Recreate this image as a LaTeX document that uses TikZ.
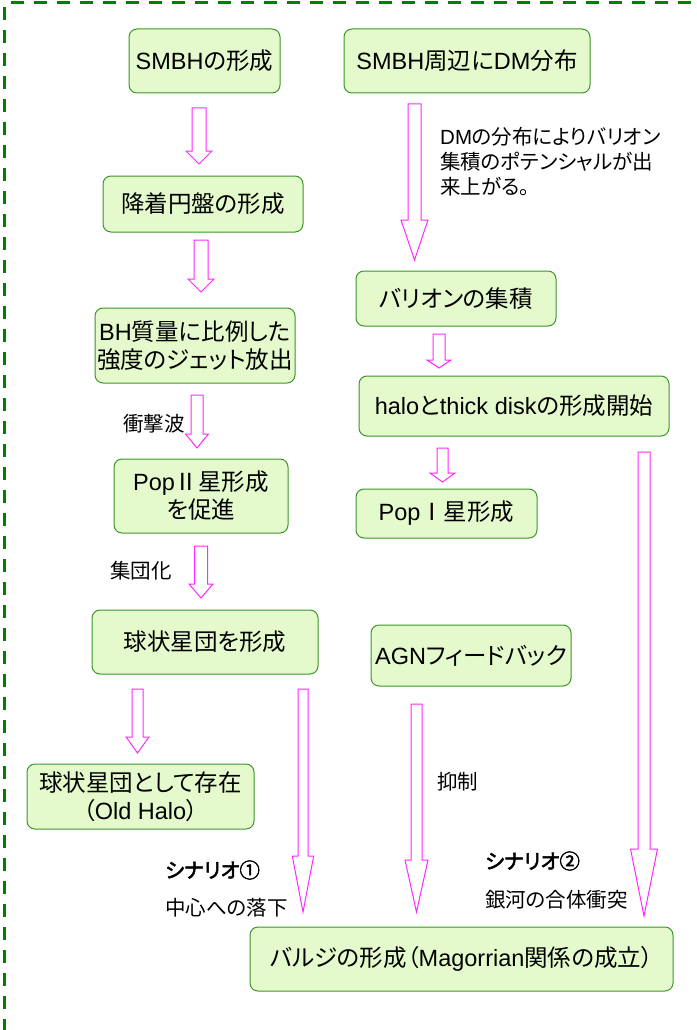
\documentclass[tikz,border=0pt]{standalone}
\usepackage{fontspec}
\setmainfont{Noto Sans CJK JP}[RawFeature={+palt}, AutoFakeBold=2.5]
\newfontfamily\lt{Liberation Sans}
\definecolor{boxline}{RGB}{60,150,40}
\definecolor{boxfill}{RGB}{229,250,204}
\definecolor{arrowline}{RGB}{255,40,255}
\definecolor{frame}{RGB}{0,128,0}
\tikzset{
  greenbox/.style={draw=boxline, fill=boxfill, line width=1pt, rounded corners=8pt,
    inner sep=0pt, align=center, font=\fontsize{23.5}{28}\selectfont},
  lbl/.style={anchor=west, inner sep=0pt, align=left, font=\fontsize{20.5}{25}\selectfont},
  blbl/.style={lbl, font=\fontsize{20.5}{25}\selectfont\bfseries},
  barrowstyle/.style={draw=arrowline, fill=white, line width=1pt, line join=miter},
  framedash/.style={draw=frame, line width=3pt, dash pattern=on 13pt off 10pt}
}
% block arrow: x, top, head start, tip, shaft half width, head half width
\newcommand\barrow[6]{%
  \draw[barrowstyle] (#1-#5,#2) -- (#1+#5,#2) -- (#1+#5,#3) -- (#1+#6,#3)
    -- (#1,#4) -- (#1-#6,#3) -- (#1-#5,#3) -- cycle;}
\begin{document}
\begin{tikzpicture}[x=1pt,y=-1pt]
\useasboundingbox (0,0) rectangle (696,1030);
% frame
\draw[framedash] (11,2.7) -- (700,2.7);
\draw[framedash] (4.7,7) -- (4.7,1040);

% boxes
\node[greenbox, minimum width=151pt, minimum height=64pt] (smbh) at (204.5,61) {{\lt SMBH}の形成};
\node[greenbox, minimum width=246pt, minimum height=64pt] (dm) at (467,61) {{\lt SMBH}周辺に{\lt DM}分布};
\node[greenbox, minimum width=200pt, minimum height=56pt] (disk) at (203,204) {降着円盤の形成};
\node[greenbox, minimum width=200pt, minimum height=75pt] (jet) at (195,345.5) {{\lt BH}質量に比例した\\強度のジェット放出};
\node[greenbox, minimum width=174pt, minimum height=74pt] (pop2) at (201,496) {{\lt Pop}Ⅱ星形成\\を促進};
\node[greenbox, minimum width=226pt, minimum height=64pt] (gc) at (205,642) {球状星団を形成};
\node[greenbox, minimum width=227pt, minimum height=65pt] (oldhalo) at (140.5,796.5) {球状星団として存在\\（{\lt Old Halo}）};
\node[greenbox, minimum width=200pt, minimum height=55pt] (baryon) at (456,298.5) {バリオンの集積};
\node[greenbox, minimum width=310pt, minimum height=60pt] (halo) at (514,406) {{\lt halo}と{\lt thick disk}の形成開始};
\node[greenbox, minimum width=181pt, minimum height=49pt] (pop1) at (446.5,513.5) {{\lt Pop}Ⅰ星形成};
\node[greenbox, minimum width=200pt, minimum height=61pt] (agn) at (471,655.5) {{\lt AGN}フィードバック};
\node[greenbox, minimum width=423pt, minimum height=64pt] (bulge) at (461.5,959) {バルジの形成（{\lt Magorrian}関係の成立）};

% block arrows
\barrow{199}{108}{151}{164}{7}{13}
\barrow{201}{240}{279}{292}{7}{13}
\barrow{197}{395}{434}{448}{6}{11.5}
\barrow{201}{546}{584}{598}{6.5}{12}
\barrow{137.5}{689}{737}{753}{5.5}{11.5}
\barrow{303}{689}{856}{912}{5}{10.7}
\barrow{414.5}{104}{220}{260}{6.5}{13.5}
\barrow{439}{334}{360}{368}{6}{12}
\barrow{442.5}{448}{473}{482}{5.5}{12.5}
\barrow{644}{452}{849}{916}{6}{13.5}
\barrow{416.5}{704}{860}{912}{5.5}{11.5}

% labels
\node[lbl] (ldm) at (440,162) {{\lt DM}の分布によりバリオン\\集積のポテンシャルが出\\来上がる。};
\node[lbl] (lshock) at (123,424) {衝撃波};
\node[lbl] (lclust) at (110,571) {集団化};
\node[lbl] (lsup) at (437,782) {抑制};
\node[blbl] (ls1) at (165,870) {シナリオ①};
\node[lbl] (lfall) at (165,908) {中心への落下};
\node[blbl] (ls2) at (485,861) {シナリオ②};
\node[lbl] (lmerge) at (485,900) {銀河の合体衝突};
\end{tikzpicture}
\end{document}
